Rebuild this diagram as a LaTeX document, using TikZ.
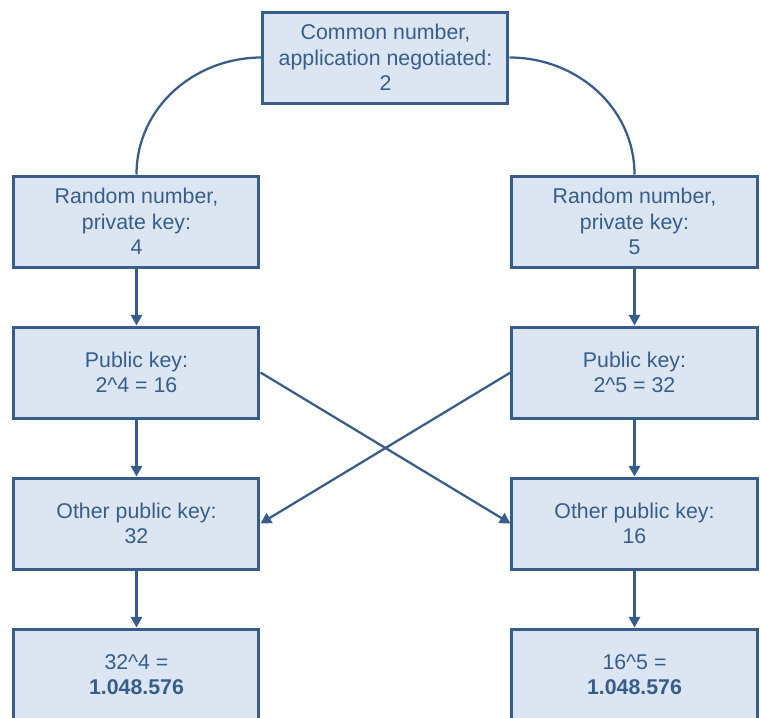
\documentclass[tikz,border=0pt]{standalone}
\usepackage{fontspec}
\setmainfont{Liberation Sans}
\usepackage{tikz}
\usetikzlibrary{positioning,arrows.meta}
\definecolor{myblue}{RGB}{56,93,138}
\definecolor{mylight}{RGB}{220,230,242}

\begin{document}
\begin{tikzpicture}[node distance=42.75pt,
    box/.style={draw=myblue, line width=2.25pt, fill=mylight, text=myblue,
        minimum width=183.75pt, minimum height=68.25pt, inner sep=0pt,
        align=center, font=\fontsize{16pt}{19pt}\selectfont},
    link/.style={draw=myblue, line width=1.7pt},
    arr/.style={link, -{Triangle[length=8pt,width=8.5pt]}}]
    \useasboundingbox (-289.125pt,43.125pt) rectangle (281.625pt,-495.375pt);

    \node[box] (G) at (0,0) {Common number,\\application negotiated:\\2};
    \node[box] (RA) at (-186.75pt,-123pt) {Random number,\\private key:\\4};
    \node[box] (RB) at (186.75pt,-123pt) {Random number,\\private key:\\5};
    \node[box] (PA) [below=of RA] {Public key:\\2\textasciicircum 4 = 16};
    \node[box] (PB) [below=of RB] {Public key:\\2\textasciicircum 5 = 32};
    \node[box] (OA) [below=of PA] {Other public key:\\32};
    \node[box] (OB) [below=of PB] {Other public key:\\16};
    \node[box] (KA) [below=of OA] {32\textasciicircum 4 =\\\textbf{1.048.576}};
    \node[box] (KB) [below=of OB] {16\textasciicircum 5 =\\\textbf{1.048.576}};

    \path[link] (G.west) to[out=180, in=90] (RA.north)
                (G.east) to[out=0, in=90] (RB.north);
    \path[arr] (RA) -- (PA);
    \path[arr] (RB) -- (PB);
    \path[arr] (PA) -- (OA);
    \path[arr] (PB) -- (OB);
    \path[arr] (OA) -- (KA);
    \path[arr] (OB) -- (KB);
    \path[arr] (PA.east) -- (OB.west);
    \path[arr] (PB.west) -- (OA.east);
\end{tikzpicture}
\end{document}
